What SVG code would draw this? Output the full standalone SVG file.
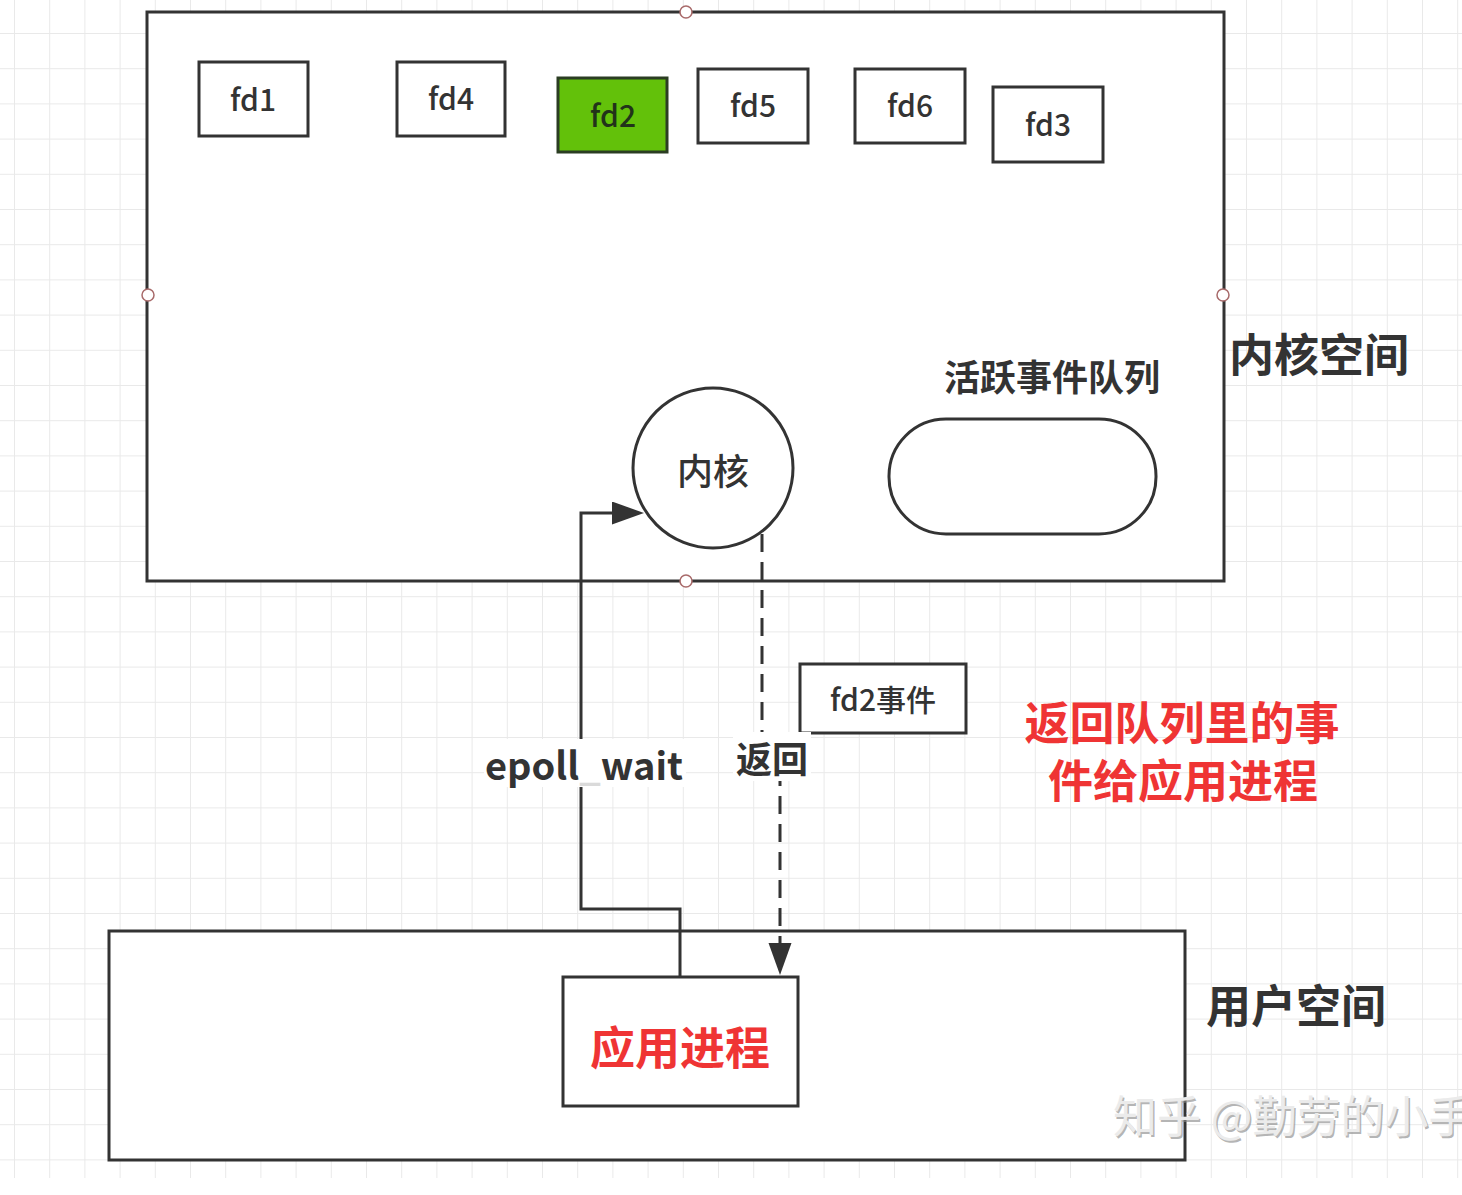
<svg xmlns="http://www.w3.org/2000/svg" width="1462" height="1195" viewBox="0 0 1462 1195">
  <style>
    .box { fill: #ffffff; stroke: #333333; stroke-width: 3; }
    .area { fill: #ffffff; stroke: #333333; stroke-width: 3; }
    .pt { fill: #ffffff; stroke: #a86a6a; stroke-width: 1.5; }
    .lbl { font-family: "Noto Sans CJK SC", "Noto Sans", sans-serif; fill: #333333; text-anchor: middle; dominant-baseline: central; }
    .fd { font-size: 30px; font-weight: 500; }
    .big { font-size: 45px; font-weight: bold; text-anchor: start; }
    .red { fill: #ef3434; font-weight: bold; }
    .edge { fill: none; stroke: #333333; stroke-width: 3; }
    .dash { stroke-dasharray: 18 10; }
    .mark { font-family: "Noto Sans CJK SC", sans-serif; font-size: 44px; }
  </style>
  <defs>
    <pattern id="grid" x="14" y="33" width="35.2" height="35.2" patternUnits="userSpaceOnUse">
      <path d="M0,0.5 H35.2 M0.5,0 V35.2" fill="none" stroke="#e9e9e9" stroke-width="1"/>
    </pattern>
    <marker id="arrow" markerWidth="33" markerHeight="24" refX="0" refY="11.5" orient="auto" markerUnits="userSpaceOnUse">
      <path d="M0,0 L32,11.5 L0,23 Z" fill="#333333"/>
    </marker>
  </defs>

  <!-- page background with grid -->
  <rect x="0" y="0" width="1462" height="1195" fill="#ffffff"/>
  <rect x="0" y="0" width="1462" height="1178" fill="url(#grid)"/>

  <!-- kernel space container -->
  <g id="kernel-space">
    <rect class="area" x="147" y="12" width="1077" height="569"/>
    <circle class="pt" cx="686" cy="12" r="6"/>
    <circle class="pt" cx="148" cy="295" r="6"/>
    <circle class="pt" cx="1223" cy="295" r="6"/>
    <circle class="pt" cx="686" cy="581" r="6"/>
    <text class="lbl big" x="1229" y="352">内核空间</text>
  </g>

  <!-- user space container -->
  <g id="user-space">
    <rect class="area" x="109" y="931" width="1076" height="229"/>
    <text class="lbl big" x="1206" y="1003">用户空间</text>
  </g>

  <!-- file descriptors -->
  <g id="fd1"><rect class="box" x="199" y="62" width="109" height="74"/><text class="lbl fd" x="253" y="98">fd1</text></g>
  <g id="fd4"><rect class="box" x="397" y="62" width="108" height="74"/><text class="lbl fd" x="451" y="97">fd4</text></g>
  <g id="fd2"><rect x="558" y="78" width="109" height="74" fill="#63c10a" stroke="#2b3d22" stroke-width="3"/><text class="lbl fd" x="613" y="114" style="fill:#22331a">fd2</text></g>
  <g id="fd5"><rect class="box" x="698" y="69" width="110" height="74"/><text class="lbl fd" x="753" y="104">fd5</text></g>
  <g id="fd6"><rect class="box" x="855" y="69" width="110" height="74"/><text class="lbl fd" x="910" y="104">fd6</text></g>
  <g id="fd3"><rect class="box" x="993" y="87" width="110" height="75"/><text class="lbl fd" x="1048" y="123">fd3</text></g>

  <!-- kernel -->
  <g id="kernel">
    <circle class="box" cx="713" cy="468" r="80"/>
    <text class="lbl" x="713" y="469" style="font-size:36px;font-weight:500">内核</text>
  </g>

  <!-- ready list -->
  <g id="ready-list">
    <text class="lbl" x="1052" y="375" style="font-size:36px;font-weight:bold">活跃事件队列</text>
    <rect class="box" x="889" y="419" width="267" height="115" rx="57" ry="57"/>
  </g>

  <!-- application process -->
  <g id="app-process">
    <rect class="box" x="563" y="977" width="235" height="129"/>
    <text class="lbl red" x="680" y="1045" style="font-size:45px">应用进程</text>
  </g>

  <!-- event passed back -->
  <g id="fd2-event">
    <rect class="box" x="800" y="664" width="166" height="69"/>
    <text class="lbl fd" x="883" y="698">fd2事件</text>
  </g>

  <!-- note, wrapped on two lines -->
  <g id="note">
    <text class="lbl red" style="font-size:45px"><tspan x="1182" y="720">返回队列里的事</tspan><tspan x="1183" y="778">件给应用进程</tspan></text>
  </g>

  <!-- connectors -->
  <g id="connectors">
    <path class="edge" d="M680,977 V909 H581 V513 H612" marker-end="url(#arrow)"/>
    <path class="edge dash" d="M762,534 V757 H780 V943" marker-end="url(#arrow)"/>
    <rect x="484" y="739" width="202" height="48" fill="#ffffff"/>
    <text class="lbl" x="584" y="763" style="font-size:38px;font-weight:bold">epoll<tspan style="fill:#dadada">_</tspan>wait</text>
    <rect x="733" y="732" width="78" height="49" fill="#ffffff"/>
    <text class="lbl" x="772" y="757" style="font-size:36px;font-weight:bold">返回</text>
  </g>

  <!-- site watermark -->
  <g id="watermark">
    <text class="mark" x="1114.5" y="1134.5" fill="#8a8a8a" fill-opacity="0.65">知乎 @勤劳的小手</text>
    <text class="mark" x="1113" y="1133" fill="#ebebeb">知乎 @勤劳的小手</text>
  </g>
</svg>
